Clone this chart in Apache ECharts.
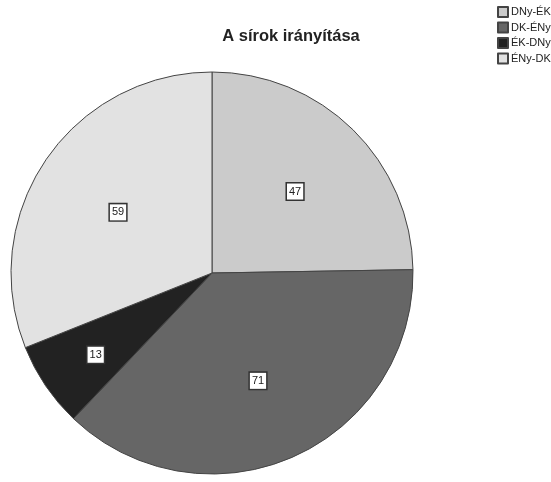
<!DOCTYPE html>
<html><head><meta charset="utf-8">
<script src="https://cdn.jsdelivr.net/npm/echarts@6/dist/echarts.min.js"></script>
<style>html,body{margin:0;padding:0;background:#fff}#c{width:551px;height:482px}</style>
</head><body><div id="c"></div>
<script>
const categories = ["DNy-ÉK", "DK-ÉNy", "ÉK-DNy", "ÉNy-DK"];
const values = [47, 71, 13, 59];
const colors = ["#cbcbcb", "#666666", "#222222", "#e2e2e2"];
const title = "A sírok irányítása";

// extra radial push of each value label beyond the default 'inside' spot
const labelPush = [15, 11, 37, 10];

const total = values.reduce((a, b) => a + b, 0);
let acc = 0;
const seriesData = categories.map((n, i) => {
  const mid = (acc + values[i] / 2) / total * 2 * Math.PI;
  acc += values[i];
  const dx = Math.sin(mid) * labelPush[i];
  const dy = -Math.cos(mid) * labelPush[i] + 3;
  return {name: n, value: values[i], itemStyle: {color: colors[i]}, label: {offset: [dx, dy]}};
});

const chart = echarts.init(document.getElementById('c'), null, {renderer: 'canvas'});
chart.setOption({
  animation: false,
  backgroundColor: '#ffffff',
  title: {
    text: title, left: 286, top: 23, textAlign: 'center',
    textStyle: {fontFamily: 'Liberation Sans, Arial, sans-serif', fontSize: 16.5, fontWeight: 'bold', color: '#222'}
  },
  legend: {
    orient: 'vertical', left: 497, top: 6, padding: 0,
    itemWidth: 10, itemHeight: 10, itemGap: 3.5, icon: 'rect',
    textStyle: {fontFamily: 'Liberation Sans, Arial, sans-serif', fontSize: 11, lineHeight: 11, color: '#222', padding: [0,0,0,-2]},
    data: categories
  },
  series: [{
    type: 'pie', center: [212, 273], radius: [0, 201],
    startAngle: 90, clockwise: true,
    itemStyle: {borderColor: '#444', borderWidth: 1},
    emphasis: {disabled: true},
    label: {
      show: true, position: 'inside', formatter: '{c}',
      fontFamily: 'Liberation Sans, Arial, sans-serif', fontSize: 11, color: '#222',
      backgroundColor: '#fff', borderColor: '#333', borderWidth: 1.5, padding: [3, 2, 2, 2]
    },
    data: seriesData
  }]
});
</script></body></html>
